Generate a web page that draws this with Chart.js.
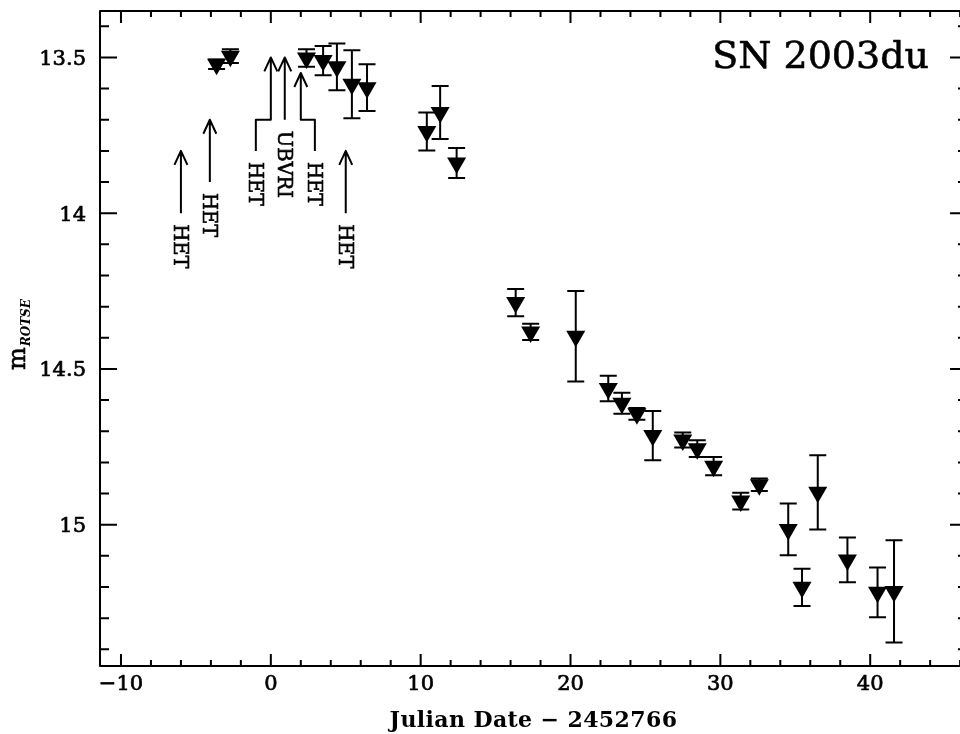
<!DOCTYPE html>
<html>
<head>
<meta charset="utf-8">
<script src="https://cdn.jsdelivr.net/npm/chart.js@4.4.0/dist/chart.umd.min.js"></script>
<style>
  html, body { margin: 0; padding: 0; background: #fff; overflow: hidden; width: 960px; height: 734px; }
  #wrap { position: absolute; left: 0; top: 0; width: 980px; height: 734px; }
</style>
</head>
<body>
<div id="wrap"><canvas id="c" width="980" height="734"></canvas></div>
<script>
// ROTSE light curve of SN 2003du (days relative to JD 2452766)
const days = [-3.62, -2.70, 2.38, 3.49, 4.41, 5.41, 6.42, 10.41, 11.30, 12.40,
              16.34, 17.34, 20.35, 22.52, 23.43, 24.43, 25.49, 27.49, 28.46, 29.55,
              31.36, 32.60, 34.53, 35.45, 36.50, 38.48, 40.49, 41.59];
const mags = [13.522, 13.496, 13.502, 13.510, 13.530, 13.586, 13.597, 13.738, 13.677, 13.839,
              14.287, 14.381, 14.395, 14.563, 14.610, 14.644, 14.714, 14.728, 14.756, 14.812,
              14.924, 14.872, 15.015, 15.201, 14.896, 15.113, 15.217, 15.214];
const magErr = [0.015, 0.022, 0.028, 0.047, 0.075, 0.109, 0.075, 0.061, 0.085, 0.048,
                0.044, 0.026, 0.145, 0.041, 0.034, 0.019, 0.079, 0.024, 0.027, 0.029,
                0.027, 0.020, 0.083, 0.060, 0.119, 0.072, 0.080, 0.164];

// Axis ranges and ticks
const xRange = [-11.4, 46.46];
const yRange = [13.351, 15.4535];
const xMajorTicks = [-10, 0, 10, 20, 30, 40];
const xTickLabels = ['\u221210', '0', '10', '20', '30', '40'];
const yMajorTicks = [13.5, 14, 14.5, 15];
const yTickLabels = ['13.5', '14', '14.5', '15'];
const xMinorStep = 2;
const yMinorStep = 0.1;

// Spectroscopy / photometry epochs marked with arrows
const noteLabels = ['HET', 'HET', 'HET', 'UBVRI', 'HET', 'HET'];
const noteX     = [-6.0, -4.07, -1.0, 0.93, 2.94, 5.0];
const noteTail  = [14.0, 13.9, 13.8, 13.7, 13.8, 14.0];
const noteBendX = [null, null, 0.0, null, 2.0, null];
const noteBendY = [null, null, 13.7, null, 13.7, null];
const noteTip   = [13.8, 13.7, 13.5, 13.5, 13.55, 13.8];

const SERIF = '"DejaVu Serif", "Liberation Serif", serif';

// filled text with a thin outline so the glyphs read a little heavier
function heavyText(ctx, s, tx, ty, w) {
  ctx.lineWidth = w;
  ctx.strokeText(s, tx, ty);
  ctx.fillText(s, tx, ty);
}

const errorBars = {
  id: 'errorBars',
  beforeDatasetsDraw(chart) {
    const { ctx, scales: { x, y } } = chart;
    ctx.save();
    ctx.strokeStyle = '#000';
    ctx.lineWidth = 2;
    days.forEach((d, i) => {
      const px = x.getPixelForValue(d);
      const y1 = y.getPixelForValue(mags[i] - magErr[i]);
      const y2 = y.getPixelForValue(mags[i] + magErr[i]);
      ctx.beginPath();
      ctx.moveTo(px, y1); ctx.lineTo(px, y2);
      ctx.moveTo(px - 8.5, y1); ctx.lineTo(px + 8.5, y1);
      ctx.moveTo(px - 8.5, y2); ctx.lineTo(px + 8.5, y2);
      ctx.stroke();
    });
    ctx.restore();
  }
};

const frameAndText = {
  id: 'frameAndText',
  afterDraw(chart) {
    const { ctx, chartArea: a, scales: { x, y } } = chart;
    ctx.save();
    ctx.strokeStyle = '#000';
    ctx.fillStyle = '#000';
    ctx.lineJoin = 'round';

    // frame
    ctx.lineWidth = 2;
    ctx.strokeRect(a.left, a.top, a.right - a.left, a.bottom - a.top);

    // ticks on all four sides
    ctx.lineWidth = 2;
    ctx.beginPath();
    for (let v = -10; v <= xRange[1] + 1e-9; v += xMinorStep) {
      const px = x.getPixelForValue(v);
      const len = xMajorTicks.includes(Math.round(v)) ? 12 : 6;
      ctx.moveTo(px, a.bottom); ctx.lineTo(px, a.bottom - len);
      ctx.moveTo(px, a.top); ctx.lineTo(px, a.top + len);
    }
    for (let k = Math.ceil(yRange[0] / yMinorStep); k <= Math.floor(yRange[1] / yMinorStep); k++) {
      const py = y.getPixelForValue(k * yMinorStep);
      const len = (k % 5 === 0) ? 17 : 9;
      ctx.moveTo(a.left, py); ctx.lineTo(a.left + len, py);
      ctx.moveTo(a.right, py); ctx.lineTo(a.right - len, py);
    }
    ctx.stroke();

    // tick labels
    ctx.font = '21px ' + SERIF;
    ctx.textAlign = 'right';
    ctx.textBaseline = 'alphabetic';
    yMajorTicks.forEach((v, i) => {
      heavyText(ctx, yTickLabels[i], 86, y.getPixelForValue(v) + 7.5, 0.7);
    });
    ctx.textAlign = 'center';
    xMajorTicks.forEach((v, i) => {
      heavyText(ctx, xTickLabels[i], x.getPixelForValue(v), 690, 0.7);
    });

    // axis titles
    ctx.font = 'bold 22px ' + SERIF;
    ctx.letterSpacing = '0.4px';
    ctx.textAlign = 'center';
    ctx.fillText('Julian Date \u2212 2452766', 533.5, 726.5);
    ctx.letterSpacing = '0px';

    ctx.save();
    ctx.translate(25, 370);
    ctx.rotate(-Math.PI / 2);
    ctx.textAlign = 'left';
    ctx.font = '24px ' + SERIF;
    heavyText(ctx, 'm', 0, 0, 0.6);
    const mw = ctx.measureText('m').width;
    ctx.font = 'italic bold 12px ' + SERIF;
    ctx.fillText('ROTSE', mw + 1, 5);
    ctx.restore();

    // object name
    ctx.font = '38px ' + SERIF;
    ctx.textAlign = 'right';
    heavyText(ctx, 'SN 2003du', 929, 68, 0.6);

    // epoch arrows
    noteLabels.forEach((lab, i) => {
      const lx = x.getPixelForValue(noteX[i]);
      const ty = y.getPixelForValue(noteTail[i]);
      const tipY = y.getPixelForValue(noteTip[i]);
      let tipX = lx;
      ctx.lineWidth = 2;
      ctx.beginPath();
      ctx.moveTo(lx, ty);
      if (noteBendX[i] !== null) {
        const by = y.getPixelForValue(noteBendY[i]);
        tipX = x.getPixelForValue(noteBendX[i]);
        ctx.lineTo(lx, by);
        ctx.lineTo(tipX, by);
        ctx.lineTo(tipX, tipY);
      } else {
        ctx.lineTo(lx, tipY);
      }
      // open arrow head
      ctx.moveTo(tipX - 6.5, tipY + 14);
      ctx.lineTo(tipX, tipY);
      ctx.lineTo(tipX + 6.5, tipY + 14);
      ctx.stroke();

      ctx.save();
      ctx.translate(lx, ty + 11);
      ctx.rotate(Math.PI / 2);
      ctx.font = '19.5px ' + SERIF;
      ctx.textAlign = 'left';
      ctx.textBaseline = 'alphabetic';
      heavyText(ctx, lab, 0, 7, 0.6);
      ctx.restore();
    });

    ctx.restore();
  }
};

new Chart(document.getElementById('c'), {
  type: 'scatter',
  data: {
    datasets: [{
      data: days.map((d, i) => ({ x: d, y: mags[i] })),
      pointStyle: 'triangle',
      rotation: 180,
      pointRadius: 11,
      pointHoverRadius: 11,
      backgroundColor: '#000',
      borderColor: '#000',
      borderWidth: 0
    }]
  },
  options: {
    responsive: false,
    animation: false,
    devicePixelRatio: 1,
    layout: { padding: { left: 100, top: 10, right: 13, bottom: 68 } },
    plugins: { legend: { display: false }, tooltip: { enabled: false } },
    scales: {
      x: { type: 'linear', min: xRange[0], max: xRange[1], display: false },
      y: { type: 'linear', min: yRange[0], max: yRange[1], reverse: true, display: false }
    }
  },
  plugins: [errorBars, frameAndText]
});
</script>
</body>
</html>
